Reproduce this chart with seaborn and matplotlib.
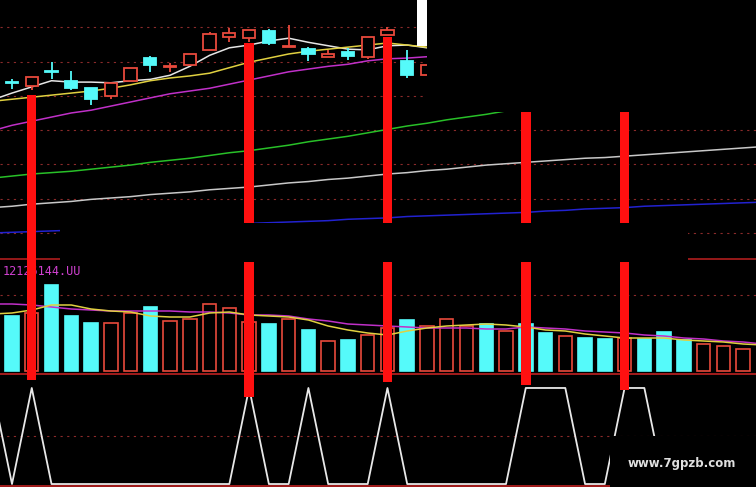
"""
Stock chart recreation: candles + moving averages, volume, signal indicator
"""
import numpy as np
import matplotlib
matplotlib.use("Agg")
import matplotlib.pyplot as plt
from matplotlib.patches import Rectangle
import seaborn as sns

# ---------------- data ----------------
# candles (only the visible part, index 0..21)
cd_open = [11.20, 11.14, 11.36, 11.22, 11.11, 11.00, 11.22, 11.55, 11.42, 11.45, 11.67,
           11.86, 11.84, 11.94, 11.71, 11.68, 11.57, 11.64, 11.57, 11.89, 11.51, 11.30]
cd_close = [11.19, 11.27, 11.35, 11.11, 10.95, 11.19, 11.41, 11.45, 11.43, 11.61, 11.90,
            11.92, 11.96, 11.77, 11.73, 11.61, 11.61, 11.58, 11.86, 11.96, 11.30, 11.45]
cd_high = [11.24, 11.27, 11.49, 11.36, 11.11, 11.19, 11.41, 11.58, 11.48, 11.61, 11.93,
           11.99, 11.96, 11.97, 12.03, 11.71, 11.67, 11.70, 11.86, 12.00, 11.67, 11.45]
cd_low = [11.10, 11.08, 11.24, 11.08, 10.87, 10.95, 11.22, 11.35, 11.35, 11.45, 11.67,
          11.78, 11.78, 11.74, 11.71, 11.51, 11.57, 11.52, 11.54, 11.89, 11.26, 11.30]

# up (red, hollow) / down (cyan, filled) for all 38 sessions
up_day = [0, 1, 0, 0, 0, 1, 1, 0, 1, 1, 1, 1, 1, 0, 1, 0, 1, 0, 1, 1,
          0, 1, 1, 1, 0, 1, 0, 0, 1, 0, 0, 1, 0, 0, 0, 1, 1, 1]

# price moving averages (first value is one session before the first candle)
ma_short = [10.94, 11.04, 11.13, 11.22, 11.20, 11.20, 11.19, 11.22, 11.24, 11.30, 11.43,
            11.59, 11.70, 11.74, 11.80, 11.84, 11.78, 11.73, 11.68, 11.67, 11.73, 11.74, 11.70]
ma_mid = [10.92, 10.95, 10.98, 11.01, 11.04, 11.07, 11.11, 11.16, 11.22, 11.26, 11.29,
          11.33, 11.41, 11.49, 11.55, 11.61, 11.65, 11.68, 11.71, 11.74, 11.77, 11.74, 11.71]
ma_20 = [10.49, 10.57, 10.63, 10.69, 10.75, 10.79, 10.85, 10.91, 10.97, 11.03, 11.07,
         11.11, 11.17, 11.23, 11.29, 11.35, 11.39, 11.43, 11.46, 11.51, 11.54, 11.55, 11.57]
ma_60 = [9.80, 9.83, 9.86, 9.88, 9.90, 9.93, 9.96, 9.99, 10.03, 10.06, 10.09, 10.13, 10.17,
         10.20, 10.24, 10.28, 10.33, 10.37, 10.41, 10.46, 10.51, 10.56, 10.60, 10.65, 10.69,
         10.73, 10.78, 10.82]
ma_120 = [9.37, 9.39, 9.42, 9.44, 9.46, 9.49, 9.51, 9.53, 9.56, 9.58, 9.60, 9.63, 9.65,
          9.67, 9.70, 9.73, 9.75, 9.78, 9.80, 9.83, 9.86, 9.88, 9.91, 9.93, 9.96, 9.99,
          10.01, 10.03, 10.05, 10.07, 10.09, 10.10, 10.12, 10.14, 10.16, 10.18, 10.20,
          10.22, 10.24, 10.26]
ma_250 = [9.00, 9.01, 9.02, 9.03, 9.04, 9.05, 9.06, 9.07, 9.08, 9.09, 9.10, 9.11, 9.12,
          9.14, 9.15, 9.16, 9.17, 9.18, 9.20, 9.21, 9.22, 9.24, 9.25, 9.26, 9.27, 9.28,
          9.29, 9.30, 9.32, 9.33, 9.35, 9.36, 9.37, 9.39, 9.40, 9.41, 9.42, 9.43, 9.44, 9.45]

# volume and its averages
volume = [55, 58, 86, 55, 48, 48, 58, 64, 50, 52, 67, 63, 49, 47, 52, 41, 30, 31, 36, 43,
          51, 45, 52, 45, 47, 40, 47, 38, 35, 33, 32, 33, 32, 39, 31, 27, 25, 22]
vol_ma5 = [57, 58, 61, 66, 66, 62, 60, 59, 55, 54, 54, 58, 59, 56, 55, 54, 51, 45, 41, 38,
           36, 40, 43, 45, 46, 47, 46, 44, 41, 40, 37, 35, 33, 33, 33, 31, 30, 29, 27, 26]
vol_ma10 = [67, 67, 66, 64, 62, 61, 60, 60, 60, 60, 59, 59, 58, 56, 56, 55, 52, 50, 47, 46,
            45, 44, 43, 43, 43, 42, 42, 44, 43, 42, 40, 39, 38, 36, 35, 33, 32, 30, 29, 27]
vol_label = "12126144.UU"

# signal indicator (0/1 state, first value one session before)
signal_line = [1, 0, 1, 0, 0, 0, 0, 0, 0, 0, 0, 0, 0, 1, 0, 0, 1, 0, 0, 0, 1,
               0, 0, 0, 0, 0, 0, 1, 1, 1, 0, 0, 1, 1, 0, 0, 0, 0, 0]

# red buy markers
signal_idx = [1, 12, 19, 26, 31]
signal_top = [11.01, 11.77, 11.86, 11.30, 11.30]
signal_end = [1.08, 0.91, 1.06, 1.03, 0.98]

watermark = "www.7gpzb.com"

# ---------------- style ----------------
RED = "#e84a3c"
CYAN = "#55fafa"
MARK = "#ff1010"
GRID = "#8a2a2a"
PANEL = "#b01e1e"

sns.set_theme(style="dark", rc={"axes.facecolor": "black", "figure.facecolor": "black",
                                "axes.edgecolor": "black"})
plt.rcParams["font.family"] = ["DejaVu Sans"]

fig = plt.figure(figsize=(7.56, 4.87), dpi=100)
H = 487.0
ax_p = fig.add_axes([0, 1 - 262 / H, 1, 262 / H])
ax_v = fig.add_axes([0, 1 - 373 / H, 1, 111 / H])
ax_i = fig.add_axes([0, 0, 1, 114 / H])

xlim = (-0.607, 37.65)
for ax in (ax_p, ax_v, ax_i):
    ax.set_xlim(*xlim)
    ax.set_xticks([])
    ax.set_yticks([])
    ax.grid(False)
    for s in ax.spines.values():
        s.set_visible(False)

dots = (0, (2, 4))

# ---------------- price panel ----------------
ax_p.set_ylim(8.577, 12.397)
for lvl in np.arange(9.0, 12.01, 0.5):
    ax_p.axhline(lvl, color=GRID, lw=0.8, ls=dots, zorder=1)
ax_p.axhline(8.621, color=PANEL, lw=1.2, zorder=1)

ma_lines = [(ma_short, "#e6e6e6"), (ma_mid, "#e0d040"), (ma_20, "#c030c8"),
            (ma_60, "#28c028"), (ma_120, "#c8c8c8"), (ma_250, "#2222d0")]
for vals, col in ma_lines:
    sns.lineplot(x=np.arange(-1, len(vals) - 1), y=vals, ax=ax_p, color=col,
                 lw=1.1, zorder=2)

for i in range(len(cd_open)):
    col = RED if up_day[i] else CYAN
    ax_p.vlines(i, cd_low[i], cd_high[i], color=col, lw=1.3, zorder=3)
    lo = min(cd_open[i], cd_close[i])
    hgt = max(abs(cd_close[i] - cd_open[i]), 0.008)
    ax_p.bar(i, hgt, bottom=lo, width=0.62, color="black" if up_day[i] else col,
             edgecolor=col, linewidth=1.3, zorder=4)

ybot = ax_p.get_ylim()[0]
ax_p.bar(signal_idx, np.array(signal_top) - ybot, bottom=ybot, width=0.48,
         color=MARK, linewidth=0, zorder=6)

# ---------------- volume panel ----------------
ax_v.set_ylim(-2, 109)
ax_v.axhline(76, color=GRID, lw=0.8, ls=dots, zorder=1)
ax_v.bar(np.arange(len(volume)), volume, width=0.68,
         color=["black" if u else CYAN for u in up_day],
         edgecolor=[RED if u else CYAN for u in up_day], linewidth=1.2, zorder=2)
sns.lineplot(x=np.arange(-1, len(vol_ma10) - 1), y=vol_ma10, ax=ax_v,
             color="#c030c8", lw=1.1, zorder=3)
sns.lineplot(x=np.arange(-1, len(vol_ma5) - 1), y=vol_ma5, ax=ax_v,
             color="#e0d040", lw=1.1, zorder=3)
ax_v.bar(signal_idx, [111] * len(signal_idx), bottom=-2, width=0.48,
         color=MARK, linewidth=0, zorder=6)
ax_v.text(0.003, 0.975, vol_label, transform=ax_v.transAxes, ha="left", va="top",
          color="#d040d0", fontsize=8.5, family="DejaVu Sans Mono")

# ---------------- indicator panel ----------------
ax_i.set_ylim(-0.031, 1.156)
ax_i.axhline(1.145, color=PANEL, lw=1.3, zorder=1)
ax_i.axhline(0.5, color=GRID, lw=0.8, ls=dots, zorder=1)
ax_i.axhline(-0.016, color=PANEL, lw=1.3, zorder=1)
sns.lineplot(x=np.arange(-1, len(signal_line) - 1), y=signal_line, ax=ax_i,
             color="#e8e8e8", lw=1.3, zorder=3)
ax_i.bar(signal_idx, 1.16 - np.array(signal_end), bottom=signal_end, width=0.48,
         color=MARK, linewidth=0, zorder=6)

# ---------------- screenshot overlays ----------------
def cover(x0, y0, x1, y1, color="black"):
    """Block a pixel region of the screenshot (top-left origin)."""
    fig.add_artist(Rectangle((x0 / 756, 1 - y1 / H), (x1 - x0) / 756, (y1 - y0) / H,
                             transform=fig.transFigure, facecolor=color,
                             edgecolor="none", zorder=20))

cover(427, 0, 756, 112)
cover(417, 0, 427, 46, color="white")
cover(60, 223, 688, 262)
cover(610, 436, 756, 487)
fig.text(682 / 756, 1 - 463 / H, watermark, ha="center", va="center",
         color="#e0e0e0", fontsize=8.5, fontweight="bold", zorder=21)

fig.savefig("out.png", dpi=100, facecolor="black")
